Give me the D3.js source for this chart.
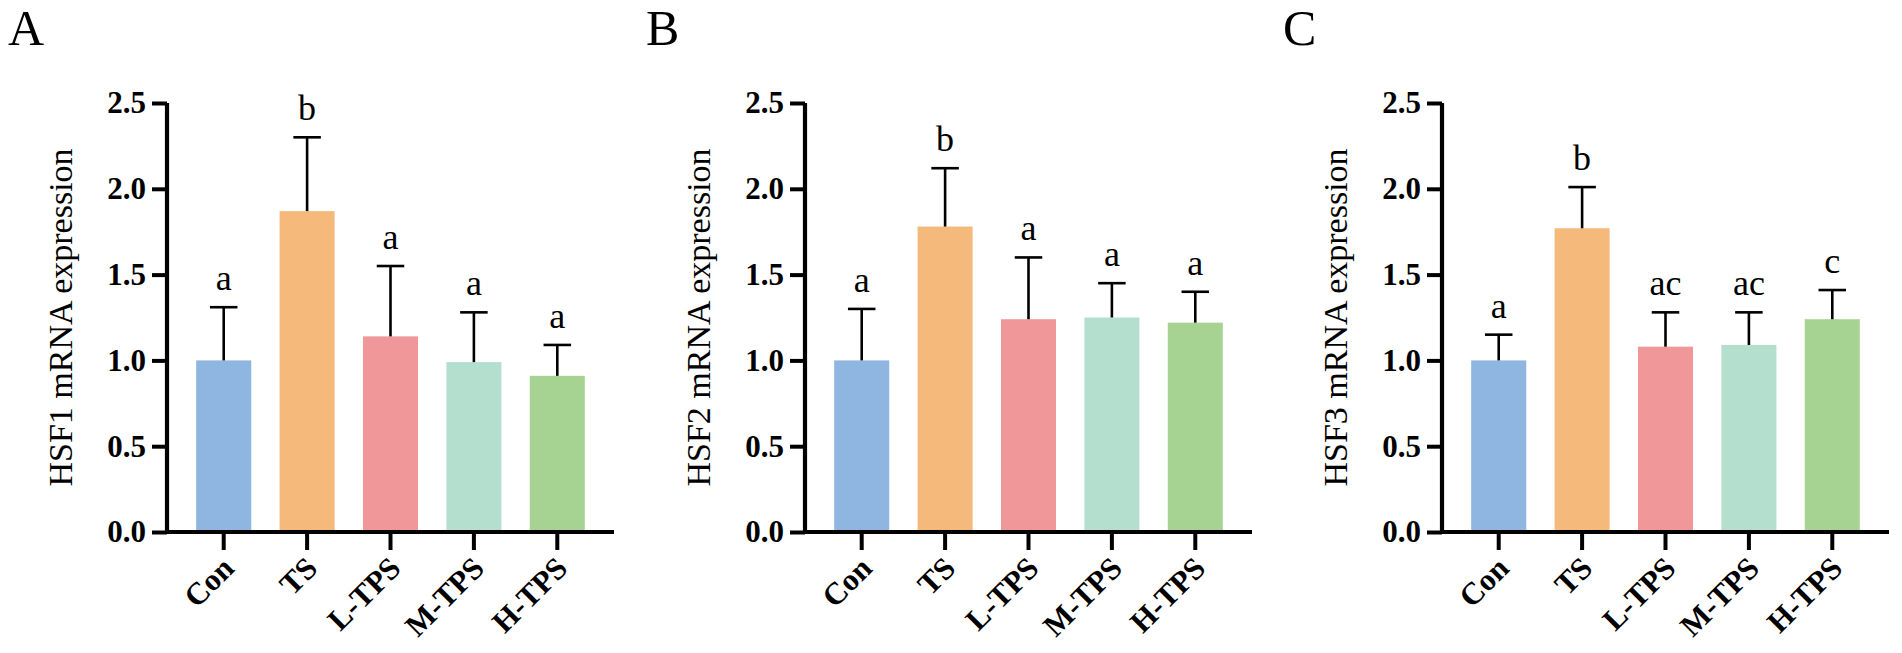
<!DOCTYPE html>
<html>
<head>
<meta charset="utf-8">
<script src="https://cdn.jsdelivr.net/npm/d3@7"></script>
<style>
  html, body { margin: 0; padding: 0; background: #fff; }
  svg { display: block; }
</style>
</head>
<body>
<svg id="chart" width="1902" height="653"></svg>
<script>
// ---- data ----
const categories = ["Con", "TS", "L-TPS", "M-TPS", "H-TPS"];
const panelLetters = ["A", "B", "C"];
const yTitles = ["HSF1 mRNA expression", "HSF2 mRNA expression", "HSF3 mRNA expression"];
const yTicks = [0.0, 0.5, 1.0, 1.5, 2.0, 2.5];

const hsf1Mean = [1.00, 1.87, 1.14, 0.99, 0.91];
const hsf1Err  = [1.31, 2.30, 1.55, 1.28, 1.09];
const hsf1Sig  = ["a", "b", "a", "a", "a"];

const hsf2Mean = [1.00, 1.78, 1.24, 1.25, 1.22];
const hsf2Err  = [1.30, 2.12, 1.60, 1.45, 1.40];
const hsf2Sig  = ["a", "b", "a", "a", "a"];

const hsf3Mean = [1.00, 1.77, 1.08, 1.09, 1.24];
const hsf3Err  = [1.15, 2.01, 1.28, 1.28, 1.41];
const hsf3Sig  = ["a", "b", "ac", "ac", "c"];

const barColors = ["#8fb6e1", "#f5b97c", "#f09799", "#b4dfcf", "#a6d391"];

const panels = [
  { mean: hsf1Mean, err: hsf1Err, sig: hsf1Sig },
  { mean: hsf2Mean, err: hsf2Err, sig: hsf2Sig },
  { mean: hsf3Mean, err: hsf3Err, sig: hsf3Sig }
];

// ---- layout ----
const svg = d3.select("#chart");
const axisLefts = [167, 805, 1442];
const axisWidth = 447;
const yTop = 103, yBottom = 532;
const serif = "'Liberation Serif', 'Times New Roman', Times, serif";

const y = d3.scaleLinear().domain([0, 2.5]).range([yBottom, yTop]);

panels.forEach((p, i) => {
  const x0 = axisLefts[i];
  const x = d3.scaleBand().domain(categories)
    .range([x0, x0 + axisWidth]).paddingInner(0.34).paddingOuter(0.35);
  const g = svg.append("g");

  // bars
  g.selectAll("rect.bar").data(categories).enter().append("rect")
    .attr("class", "bar")
    .attr("x", d => x(d))
    .attr("width", x.bandwidth())
    .attr("y", (d, j) => y(p.mean[j]))
    .attr("height", (d, j) => y(0) - y(p.mean[j]))
    .attr("fill", (d, j) => barColors[j]);

  // error bars (upper only)
  const capW = x.bandwidth() * 0.5;
  categories.forEach((c, j) => {
    const cx = x(c) + x.bandwidth() / 2;
    g.append("line")
      .attr("x1", cx).attr("x2", cx)
      .attr("y1", y(p.mean[j])).attr("y2", y(p.err[j]))
      .attr("stroke", "#000").attr("stroke-width", 2.6);
    g.append("line")
      .attr("x1", cx - capW / 2).attr("x2", cx + capW / 2)
      .attr("y1", y(p.err[j])).attr("y2", y(p.err[j]))
      .attr("stroke", "#000").attr("stroke-width", 2.6);
    g.append("text")
      .attr("x", cx).attr("y", y(p.err[j]) - 17)
      .attr("text-anchor", "middle")
      .attr("font-family", serif).attr("font-size", 36)
      .attr("fill", "#000")
      .text(p.sig[j]);
  });

  // y axis
  const yAxis = d3.axisLeft(y).tickValues(yTicks).tickFormat(d3.format(".1f"))
    .tickSizeOuter(0).tickSizeInner(15).tickPadding(6);
  const ya = g.append("g").attr("transform", `translate(${x0},0)`).call(yAxis);
  ya.select(".domain").attr("stroke", "#000").attr("stroke-width", 4.2)
    .attr("d", `M0,${yTop}V${yBottom + 2}`);
  ya.selectAll(".tick line").attr("stroke", "#000").attr("stroke-width", 4);
  ya.selectAll(".tick text")
    .attr("font-family", serif).attr("font-size", 31).attr("font-weight", "bold")
    .attr("fill", "#000");

  // x axis
  const xAxis = d3.axisBottom(x).tickSizeOuter(0).tickSizeInner(18).tickPadding(0);
  const xa = g.append("g").attr("transform", `translate(0,${yBottom})`).call(xAxis);
  xa.select(".domain").attr("stroke", "#000").attr("stroke-width", 4.2)
    .attr("d", `M${x0 - 2},0H${x0 + axisWidth}`);
  xa.selectAll(".tick line").attr("stroke", "#000").attr("stroke-width", 4);
  xa.selectAll(".tick text")
    .attr("font-family", serif).attr("font-size", 31).attr("font-weight", "bold")
    .attr("fill", "#000")
    .attr("text-anchor", "end")
    .attr("dy", 0)
    .attr("y", 0)
    .attr("transform", "translate(12,38) rotate(-45)");

  // y title
  g.append("text")
    .attr("transform", `translate(${x0 - 95},${(yTop + yBottom) / 2}) rotate(-90)`)
    .attr("text-anchor", "middle")
    .attr("font-family", serif).attr("font-size", 34)
    .attr("fill", "#000")
    .text(yTitles[i]);

  // panel letter
  g.append("text")
    .attr("x", x0 - 159).attr("y", 45)
    .attr("font-family", serif).attr("font-size", 50)
    .attr("fill", "#000")
    .text(panelLetters[i]);
});
</script>
</body>
</html>
